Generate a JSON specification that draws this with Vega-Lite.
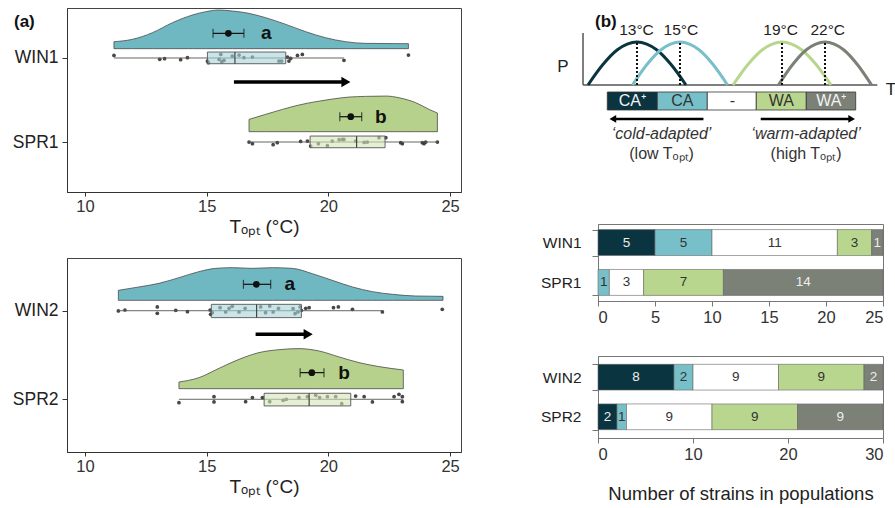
{
  "$schema": "https://vega.github.io/schema/vega-lite/v6.json",
  "background": "white",
  "padding": {"left": 11, "top": 7, "right": 0, "bottom": 0},
  "config": {"font": "Liberation Sans", "view": {"stroke": "#444"}, "text": {"font": "Liberation Sans"}},
  "datasets": {
    "viol": [
      {"g":"WIN1","T":11.19,"y":2.194},{"g":"WIN1","T":11.95,"y":2.222},{"g":"WIN1","T":12.77,"y":2.301},{"g":"WIN1","T":13.59,"y":2.420},{"g":"WIN1","T":14.41,"y":2.511},{"g":"WIN1","T":14.96,"y":2.551},{"g":"WIN1","T":15.51,"y":2.571},{"g":"WIN1","T":16.05,"y":2.559},{"g":"WIN1","T":16.60,"y":2.539},{"g":"WIN1","T":17.42,"y":2.480},{"g":"WIN1","T":18.25,"y":2.400},{"g":"WIN1","T":19.07,"y":2.313},{"g":"WIN1","T":19.89,"y":2.241},{"g":"WIN1","T":20.71,"y":2.194},{"g":"WIN1","T":21.53,"y":2.174},{"g":"WIN1","T":23.29,"y":2.170},
      {"g":"SPR1","T":16.74,"y":1.269},{"g":"SPR1","T":17.42,"y":1.329},{"g":"SPR1","T":18.11,"y":1.388},{"g":"SPR1","T":18.79,"y":1.440},{"g":"SPR1","T":19.48,"y":1.480},{"g":"SPR1","T":20.16,"y":1.511},{"g":"SPR1","T":20.85,"y":1.535},{"g":"SPR1","T":21.53,"y":1.543},{"g":"SPR1","T":22.36,"y":1.547},{"g":"SPR1","T":22.90,"y":1.527},{"g":"SPR1","T":23.59,"y":1.468},{"g":"SPR1","T":24.14,"y":1.388},{"g":"SPR1","T":24.48,"y":1.345},
      {"g":"WIN2","T":11.37,"y":2.230},{"g":"WIN2","T":12.22,"y":2.268},{"g":"WIN2","T":13.04,"y":2.309},{"g":"WIN2","T":13.86,"y":2.373},{"g":"WIN2","T":14.68,"y":2.441},{"g":"WIN2","T":15.37,"y":2.478},{"g":"WIN2","T":16.05,"y":2.486},{"g":"WIN2","T":16.88,"y":2.478},{"g":"WIN2","T":17.70,"y":2.486},{"g":"WIN2","T":18.52,"y":2.478},{"g":"WIN2","T":19.34,"y":2.418},{"g":"WIN2","T":20.16,"y":2.343},{"g":"WIN2","T":20.99,"y":2.268},{"g":"WIN2","T":21.81,"y":2.215},{"g":"WIN2","T":22.63,"y":2.185},{"g":"WIN2","T":23.59,"y":2.166},{"g":"WIN2","T":24.71,"y":2.162},
      {"g":"SPR2","T":13.86,"y":1.195},{"g":"SPR2","T":14.68,"y":1.244},{"g":"SPR2","T":15.51,"y":1.350},{"g":"SPR2","T":16.33,"y":1.451},{"g":"SPR2","T":17.15,"y":1.527},{"g":"SPR2","T":17.97,"y":1.560},{"g":"SPR2","T":18.79,"y":1.572},{"g":"SPR2","T":19.62,"y":1.545},{"g":"SPR2","T":20.44,"y":1.478},{"g":"SPR2","T":21.26,"y":1.414},{"g":"SPR2","T":22.08,"y":1.369},{"g":"SPR2","T":23.08,"y":1.331}
    ],
    "pts": [
      {"g":"WIN1","T":11.19,"y":2.031},{"g":"WIN1","T":13.07,"y":1.984},{"g":"WIN1","T":13.27,"y":1.992},{"g":"WIN1","T":13.93,"y":1.980},{"g":"WIN1","T":14.21,"y":2.003},{"g":"WIN1","T":15.03,"y":1.964},{"g":"WIN1","T":15.07,"y":1.944},{"g":"WIN1","T":15.51,"y":1.984},{"g":"WIN1","T":15.58,"y":2.043},{"g":"WIN1","T":15.62,"y":1.956},{"g":"WIN1","T":15.71,"y":1.972},{"g":"WIN1","T":16.05,"y":2.023},{"g":"WIN1","T":16.33,"y":2.035},{"g":"WIN1","T":16.53,"y":2.003},{"g":"WIN1","T":16.88,"y":2.011},{"g":"WIN1","T":17.97,"y":1.964},{"g":"WIN1","T":18.08,"y":1.964},{"g":"WIN1","T":18.32,"y":2.011},{"g":"WIN1","T":18.38,"y":1.964},{"g":"WIN1","T":18.45,"y":1.995},{"g":"WIN1","T":18.73,"y":2.031},{"g":"WIN1","T":18.93,"y":2.043},{"g":"WIN1","T":20.64,"y":1.972},{"g":"WIN1","T":23.29,"y":2.035},
      {"g":"SPR1","T":16.74,"y":0.999},{"g":"SPR1","T":16.88,"y":0.980},{"g":"SPR1","T":17.73,"y":0.968},{"g":"SPR1","T":17.90,"y":0.992},{"g":"SPR1","T":18.86,"y":1.007},{"g":"SPR1","T":19.14,"y":1.011},{"g":"SPR1","T":19.27,"y":0.952},{"g":"SPR1","T":19.59,"y":0.980},{"g":"SPR1","T":19.96,"y":0.956},{"g":"SPR1","T":20.16,"y":1.011},{"g":"SPR1","T":20.44,"y":1.027},{"g":"SPR1","T":20.58,"y":1.031},{"g":"SPR1","T":20.64,"y":1.031},{"g":"SPR1","T":21.12,"y":1.011},{"g":"SPR1","T":21.47,"y":0.995},{"g":"SPR1","T":21.60,"y":0.999},{"g":"SPR1","T":22.08,"y":1.051},{"g":"SPR1","T":22.36,"y":1.051},{"g":"SPR1","T":22.97,"y":0.992},{"g":"SPR1","T":23.04,"y":0.980},{"g":"SPR1","T":23.86,"y":0.992},{"g":"SPR1","T":23.93,"y":0.980},{"g":"SPR1","T":24.00,"y":0.999},{"g":"SPR1","T":24.48,"y":0.999},
      {"g":"WIN2","T":11.37,"y":1.997},{"g":"WIN2","T":11.64,"y":2.008},{"g":"WIN2","T":12.97,"y":2.042},{"g":"WIN2","T":12.97,"y":1.970},{"g":"WIN2","T":13.73,"y":2.004},{"g":"WIN2","T":14.21,"y":1.989},{"g":"WIN2","T":15.14,"y":2.008},{"g":"WIN2","T":15.16,"y":1.959},{"g":"WIN2","T":15.23,"y":1.978},{"g":"WIN2","T":15.55,"y":2.034},{"g":"WIN2","T":15.78,"y":1.986},{"g":"WIN2","T":15.92,"y":2.027},{"g":"WIN2","T":16.05,"y":2.049},{"g":"WIN2","T":16.33,"y":1.986},{"g":"WIN2","T":16.58,"y":2.027},{"g":"WIN2","T":17.22,"y":2.042},{"g":"WIN2","T":17.42,"y":1.978},{"g":"WIN2","T":17.59,"y":2.053},{"g":"WIN2","T":17.73,"y":1.986},{"g":"WIN2","T":17.95,"y":2.027},{"g":"WIN2","T":18.55,"y":2.023},{"g":"WIN2","T":18.63,"y":1.967},{"g":"WIN2","T":18.75,"y":1.986},{"g":"WIN2","T":18.84,"y":2.042},{"g":"WIN2","T":18.89,"y":2.004},{"g":"WIN2","T":19.07,"y":2.027},{"g":"WIN2","T":19.21,"y":2.034},{"g":"WIN2","T":20.21,"y":2.034},{"g":"WIN2","T":20.41,"y":2.042},{"g":"WIN2","T":20.99,"y":2.016},{"g":"WIN2","T":22.22,"y":1.986},{"g":"WIN2","T":24.68,"y":2.016},
      {"g":"SPR2","T":13.86,"y":0.962},{"g":"SPR2","T":15.30,"y":1.030},{"g":"SPR2","T":15.30,"y":0.970},{"g":"SPR2","T":16.60,"y":0.973},{"g":"SPR2","T":16.88,"y":1.019},{"g":"SPR2","T":17.29,"y":1.019},{"g":"SPR2","T":17.59,"y":0.973},{"g":"SPR2","T":18.14,"y":0.989},{"g":"SPR2","T":18.27,"y":1.000},{"g":"SPR2","T":18.79,"y":1.019},{"g":"SPR2","T":19.14,"y":1.030},{"g":"SPR2","T":19.48,"y":1.045},{"g":"SPR2","T":19.64,"y":1.019},{"g":"SPR2","T":19.96,"y":1.030},{"g":"SPR2","T":20.30,"y":1.030},{"g":"SPR2","T":20.55,"y":0.951},{"g":"SPR2","T":21.12,"y":1.037},{"g":"SPR2","T":21.47,"y":1.030},{"g":"SPR2","T":21.81,"y":0.970},{"g":"SPR2","T":22.70,"y":1.030},{"g":"SPR2","T":22.90,"y":1.056},{"g":"SPR2","T":23.04,"y":1.030},{"g":"SPR2","T":23.04,"y":0.973}
    ],
    "box": [
      {"g":"WIN1","lo":11.19,"q1":15.03,"med":16.16,"q3":18.25,"hi":20.64,"yb":1.932,"yt":2.071,"yc":2.0},
      {"g":"SPR1","lo":16.74,"q1":19.25,"med":21.16,"q3":22.33,"hi":24.48,"yb":0.932,"yt":1.071,"yc":1.0},
      {"g":"WIN2","lo":11.37,"q1":15.19,"med":17.05,"q3":18.89,"hi":22.22,"yb":1.922,"yt":2.072,"yc":2.0},
      {"g":"SPR2","lo":13.86,"q1":17.36,"med":19.21,"q3":20.92,"hi":23.08,"yb":0.925,"yt":1.068,"yc":1.0}
    ],
    "mean": [
      {"g":"WIN1","m":15.89,"elo":15.26,"ehi":16.53,"ym":2.293,"lab":"a","lx":17.45},
      {"g":"SPR1","m":20.92,"elo":20.47,"ehi":21.37,"ym":1.301,"lab":"b","lx":22.15},
      {"g":"WIN2","m":17.04,"elo":16.51,"ehi":17.63,"ym":2.298,"lab":"a","lx":18.41},
      {"g":"SPR2","m":19.32,"elo":18.84,"ehi":19.82,"ym":1.301,"lab":"b","lx":20.64}
    ],
    "arr": [
      {"p":1,"x1":16.12,"x2":20.72,"hx":20.72,"y":1.714},
      {"p":2,"x1":17.01,"x2":19.17,"hx":19.17,"y":1.733}
    ],
    "bars": [
      {"p":1,"g":"WIN1","k":"CA+","n":5,"o":1},{"p":1,"g":"WIN1","k":"CA","n":5,"o":2},{"p":1,"g":"WIN1","k":"-","n":11,"o":3},{"p":1,"g":"WIN1","k":"WA","n":3,"o":4},{"p":1,"g":"WIN1","k":"WA+","n":1,"o":5},
      {"p":1,"g":"SPR1","k":"CA","n":1,"o":2},{"p":1,"g":"SPR1","k":"-","n":3,"o":3},{"p":1,"g":"SPR1","k":"WA","n":7,"o":4},{"p":1,"g":"SPR1","k":"WA+","n":14,"o":5},
      {"p":2,"g":"WIN2","k":"CA+","n":8,"o":1},{"p":2,"g":"WIN2","k":"CA","n":2,"o":2},{"p":2,"g":"WIN2","k":"-","n":9,"o":3},{"p":2,"g":"WIN2","k":"WA","n":9,"o":4},{"p":2,"g":"WIN2","k":"WA+","n":2,"o":5},
      {"p":2,"g":"SPR2","k":"CA+","n":2,"o":1},{"p":2,"g":"SPR2","k":"CA","n":1,"o":2},{"p":2,"g":"SPR2","k":"-","n":9,"o":3},{"p":2,"g":"SPR2","k":"WA","n":9,"o":4},{"p":2,"g":"SPR2","k":"WA+","n":9,"o":5}
    ],
    "curves": [
      {"k":"CA+","x":-3.51,"y":52.17},{"k":"CA+","x":1.65,"y":64.72},{"k":"CA+","x":6.81,"y":74.06},{"k":"CA+","x":10.24,"y":77.54},{"k":"CA+","x":13.68,"y":78.87},{"k":"CA+","x":17.12,"y":77.54},{"k":"CA+","x":20.56,"y":74.06},{"k":"CA+","x":25.71,"y":64.72},{"k":"CA+","x":30.87,"y":52.17},
      {"k":"CA","x":12.10,"y":52.17},{"k":"CA","x":17.10,"y":64.72},{"k":"CA","x":22.10,"y":74.06},{"k":"CA","x":25.44,"y":77.54},{"k":"CA","x":28.77,"y":78.87},{"k":"CA","x":32.10,"y":77.54},{"k":"CA","x":35.44,"y":74.06},{"k":"CA","x":40.44,"y":64.72},{"k":"CA","x":45.44,"y":52.17},
      {"k":"WA","x":47.37,"y":52.17},{"k":"WA","x":52.53,"y":64.72},{"k":"WA","x":57.68,"y":74.06},{"k":"WA","x":61.12,"y":77.54},{"k":"WA","x":64.56,"y":78.87},{"k":"WA","x":68.00,"y":77.54},{"k":"WA","x":71.44,"y":74.06},{"k":"WA","x":76.59,"y":64.72},{"k":"WA","x":81.75,"y":52.17},
      {"k":"WA+","x":63.33,"y":52.17},{"k":"WA+","x":68.23,"y":64.72},{"k":"WA+","x":73.12,"y":74.06},{"k":"WA+","x":76.39,"y":77.54},{"k":"WA+","x":79.65,"y":78.87},{"k":"WA+","x":82.91,"y":77.54},{"k":"WA+","x":86.18,"y":74.06},{"k":"WA+","x":91.07,"y":64.72},{"k":"WA+","x":95.97,"y":52.17}
    ],
    "peaks": [
      {"x":13.68,"lx":13.5,"lab":"13°C"},{"x":28.77,"lx":29.1,"lab":"15°C"},{"x":64.56,"lx":64.1,"lab":"19°C"},{"x":79.65,"lx":80.6,"lab":"22°C"}
    ],
    "cats": [
      {"k":"CA+","lab":"CA⁺","lo":3.26,"hi":20.81},{"k":"CA","lab":"CA","lo":20.81,"hi":38.35},{"k":"-","lab":"-","lo":38.35,"hi":55.54},{"k":"WA","lab":"WA","lo":55.54,"hi":73.09},{"k":"WA+","lab":"WA⁺","lo":73.09,"hi":90.42}
    ],
    "sarr": [
      {"x1":37.0,"x2":5.2,"hx":5.2,"shape":"triangle-left"},
      {"x1":57.1,"x2":89.0,"hx":89.0,"shape":"triangle-right"}
    ],
    "stext": [
      {"x":22.3,"y":21.74,"t":"‘cold-adapted’","it":1},{"x":22.3,"y":9.32,"t":"(low Tₒₚₜ)","it":0},
      {"x":73.0,"y":21.74,"t":"‘warm-adapted’","it":1},{"x":73.0,"y":9.32,"t":"(high Tₒₚₜ)","it":0}
    ],
    "saxes": [
      {"x":-5.26,"x2":98.0,"y":52.17,"y2":52.17},{"x":-5.26,"x2":-5.26,"y":52.17,"y2":84.47}
    ],
    "slab": [
      {"x":-12.3,"y":63.4,"t":"P"},{"x":102.8,"y":49.1,"t":"T"}
    ]
  },
  "bounds": "flush",
  "spacing": 531,
  "hconcat": [
    {
      "bounds": "flush",
      "spacing": 66,
      "vconcat": [
        {
          "width": 394, "height": 184,
          "title": {"text": "(a)", "anchor": "start", "frame": "group", "dx": -53, "dy": 27, "fontSize": 17, "fontWeight": "bold", "color": "#111"},
          "layer": [
            {"data": {"name": "viol"}, "transform": [{"filter": "datum.g=='WIN1'"}],
             "mark": {"type": "area", "fill": "#6fb8c2", "stroke": "#4a4a4a", "strokeWidth": 0.8, "interpolate": "monotone"},
             "encoding": {
               "x": {"field": "T", "type": "quantitative", "scale": {"domain": [9.26, 25.45], "nice": false, "zero": false}, "axis": {"title": "Tₒₚₜ (°C)", "values": [10, 15, 20, 25], "grid": false, "tickSize": 4, "labelPadding": 2, "labelFontSize": 16.5, "labelColor": "#333", "titleFontSize": 19, "titleFontWeight": "normal", "titleColor": "#222", "titlePadding": 3, "domainColor": "#333", "tickColor": "#333"}},
               "y": {"field": "y", "type": "quantitative", "scale": {"domain": [0.405, 2.595], "nice": false, "zero": false}, "axis": {"title": null, "values": [1, 2], "labelExpr": "datum.value==2?'WIN1':'SPR1'", "grid": false, "tickSize": 5, "labelPadding": 4, "labelFontSize": 17.5, "labelColor": "#222", "domainColor": "#333", "tickColor": "#333"}},
               "y2": {"datum": 2.111}
             }},
            {"data": {"name": "viol"}, "transform": [{"filter": "datum.g=='SPR1'"}],
             "mark": {"type": "area", "fill": "#b5d18c", "stroke": "#4a4a4a", "strokeWidth": 0.8, "interpolate": "monotone"},
             "encoding": {"x": {"field": "T", "type": "quantitative"}, "y": {"field": "y", "type": "quantitative"}, "y2": {"datum": 1.123}}},
            {"data": {"name": "pts"}, "transform": [{"filter": "datum.g=='WIN1'||datum.g=='SPR1'"}],
             "mark": {"type": "circle", "size": 14, "color": "#333", "opacity": 0.9},
             "encoding": {"x": {"field": "T", "type": "quantitative"}, "y": {"field": "y", "type": "quantitative"}}},
            {"data": {"name": "box"}, "transform": [{"filter": "datum.g=='WIN1'||datum.g=='SPR1'"}],
             "mark": {"type": "rule", "color": "#555", "strokeWidth": 0.9},
             "encoding": {"x": {"field": "lo", "type": "quantitative"}, "x2": {"field": "hi"}, "y": {"field": "yc", "type": "quantitative"}}},
            {"data": {"name": "box"}, "transform": [{"filter": "datum.g=='WIN1'||datum.g=='SPR1'"}],
             "mark": {"type": "rect", "stroke": "#555", "strokeWidth": 0.9, "fillOpacity": 0.6},
             "encoding": {"x": {"field": "q1", "type": "quantitative"}, "x2": {"field": "q3"}, "y": {"field": "yb", "type": "quantitative"}, "y2": {"field": "yt"},
               "fill": {"condition": {"test": "datum.g=='WIN1'", "value": "#a6d3d9"}, "value": "#d2e4b8"}}},
            {"data": {"name": "box"}, "transform": [{"filter": "datum.g=='WIN1'||datum.g=='SPR1'"}],
             "mark": {"type": "rule", "color": "#444", "strokeWidth": 1.2},
             "encoding": {"x": {"field": "med", "type": "quantitative"}, "y": {"field": "yb", "type": "quantitative"}, "y2": {"field": "yt"}}},
            {"data": {"name": "mean"}, "transform": [{"filter": "datum.g=='WIN1'||datum.g=='SPR1'"}],
             "mark": {"type": "rule", "color": "#111", "strokeWidth": 1.2},
             "encoding": {"x": {"field": "elo", "type": "quantitative"}, "x2": {"field": "ehi"}, "y": {"field": "ym", "type": "quantitative"}}},
            {"data": {"name": "mean"}, "transform": [{"filter": "datum.g=='WIN1'||datum.g=='SPR1'"}],
             "mark": {"type": "tick", "orient": "vertical", "size": 9, "thickness": 1.2, "color": "#111"},
             "encoding": {"x": {"field": "elo", "type": "quantitative"}, "y": {"field": "ym", "type": "quantitative"}}},
            {"data": {"name": "mean"}, "transform": [{"filter": "datum.g=='WIN1'||datum.g=='SPR1'"}],
             "mark": {"type": "tick", "orient": "vertical", "size": 9, "thickness": 1.2, "color": "#111"},
             "encoding": {"x": {"field": "ehi", "type": "quantitative"}, "y": {"field": "ym", "type": "quantitative"}}},
            {"data": {"name": "mean"}, "transform": [{"filter": "datum.g=='WIN1'||datum.g=='SPR1'"}],
             "mark": {"type": "circle", "size": 45, "color": "#111", "opacity": 1},
             "encoding": {"x": {"field": "m", "type": "quantitative"}, "y": {"field": "ym", "type": "quantitative"}}},
            {"data": {"name": "mean"}, "transform": [{"filter": "datum.g=='WIN1'||datum.g=='SPR1'"}],
             "mark": {"type": "text", "fontSize": 19, "fontWeight": "bold", "color": "#111", "align": "center", "baseline": "middle"},
             "encoding": {"x": {"field": "lx", "type": "quantitative"}, "y": {"field": "ym", "type": "quantitative"}, "text": {"field": "lab"}}},
            {"data": {"name": "arr"}, "transform": [{"filter": "datum.p==1"}],
             "mark": {"type": "rule", "color": "#000", "strokeWidth": 3.5},
             "encoding": {"x": {"field": "x1", "type": "quantitative"}, "x2": {"field": "x2"}, "y": {"field": "y", "type": "quantitative"}}},
            {"data": {"name": "arr"}, "transform": [{"filter": "datum.p==1"}],
             "mark": {"type": "point", "shape": "triangle-right", "filled": true, "size": 110, "color": "#000", "opacity": 1},
             "encoding": {"x": {"field": "hx", "type": "quantitative"}, "y": {"field": "y", "type": "quantitative"}}}
          ]
        },
        {
          "width": 394, "height": 194,
          "layer": [
            {"data": {"name": "viol"}, "transform": [{"filter": "datum.g=='WIN2'"}],
             "mark": {"type": "area", "fill": "#6fb8c2", "stroke": "#4a4a4a", "strokeWidth": 0.8, "interpolate": "monotone"},
             "encoding": {
               "x": {"field": "T", "type": "quantitative", "scale": {"domain": [9.26, 25.45], "nice": false, "zero": false}, "axis": {"title": "Tₒₚₜ (°C)", "values": [10, 15, 20, 25], "grid": false, "tickSize": 4, "labelPadding": 2, "labelFontSize": 16.5, "labelColor": "#333", "titleFontSize": 19, "titleFontWeight": "normal", "titleColor": "#222", "titlePadding": 3, "domainColor": "#333", "tickColor": "#333"}},
               "y": {"field": "y", "type": "quantitative", "scale": {"domain": [0.405, 2.595], "nice": false, "zero": false}, "axis": {"title": null, "values": [1, 2], "labelExpr": "datum.value==2?'WIN2':'SPR2'", "grid": false, "tickSize": 5, "labelPadding": 4, "labelFontSize": 17.5, "labelColor": "#222", "domainColor": "#333", "tickColor": "#333"}},
               "y2": {"datum": 2.117}
             }},
            {"data": {"name": "viol"}, "transform": [{"filter": "datum.g=='SPR2'"}],
             "mark": {"type": "area", "fill": "#b5d18c", "stroke": "#4a4a4a", "strokeWidth": 0.8, "interpolate": "monotone"},
             "encoding": {"x": {"field": "T", "type": "quantitative"}, "y": {"field": "y", "type": "quantitative"}, "y2": {"datum": 1.120}}},
            {"data": {"name": "pts"}, "transform": [{"filter": "datum.g=='WIN2'||datum.g=='SPR2'"}],
             "mark": {"type": "circle", "size": 14, "color": "#333", "opacity": 0.9},
             "encoding": {"x": {"field": "T", "type": "quantitative"}, "y": {"field": "y", "type": "quantitative"}}},
            {"data": {"name": "box"}, "transform": [{"filter": "datum.g=='WIN2'||datum.g=='SPR2'"}],
             "mark": {"type": "rule", "color": "#555", "strokeWidth": 0.9},
             "encoding": {"x": {"field": "lo", "type": "quantitative"}, "x2": {"field": "hi"}, "y": {"field": "yc", "type": "quantitative"}}},
            {"data": {"name": "box"}, "transform": [{"filter": "datum.g=='WIN2'||datum.g=='SPR2'"}],
             "mark": {"type": "rect", "stroke": "#555", "strokeWidth": 0.9, "fillOpacity": 0.6},
             "encoding": {"x": {"field": "q1", "type": "quantitative"}, "x2": {"field": "q3"}, "y": {"field": "yb", "type": "quantitative"}, "y2": {"field": "yt"},
               "fill": {"condition": {"test": "datum.g=='WIN2'", "value": "#a6d3d9"}, "value": "#d2e4b8"}}},
            {"data": {"name": "box"}, "transform": [{"filter": "datum.g=='WIN2'||datum.g=='SPR2'"}],
             "mark": {"type": "rule", "color": "#444", "strokeWidth": 1.2},
             "encoding": {"x": {"field": "med", "type": "quantitative"}, "y": {"field": "yb", "type": "quantitative"}, "y2": {"field": "yt"}}},
            {"data": {"name": "mean"}, "transform": [{"filter": "datum.g=='WIN2'||datum.g=='SPR2'"}],
             "mark": {"type": "rule", "color": "#111", "strokeWidth": 1.2},
             "encoding": {"x": {"field": "elo", "type": "quantitative"}, "x2": {"field": "ehi"}, "y": {"field": "ym", "type": "quantitative"}}},
            {"data": {"name": "mean"}, "transform": [{"filter": "datum.g=='WIN2'||datum.g=='SPR2'"}],
             "mark": {"type": "tick", "orient": "vertical", "size": 9, "thickness": 1.2, "color": "#111"},
             "encoding": {"x": {"field": "elo", "type": "quantitative"}, "y": {"field": "ym", "type": "quantitative"}}},
            {"data": {"name": "mean"}, "transform": [{"filter": "datum.g=='WIN2'||datum.g=='SPR2'"}],
             "mark": {"type": "tick", "orient": "vertical", "size": 9, "thickness": 1.2, "color": "#111"},
             "encoding": {"x": {"field": "ehi", "type": "quantitative"}, "y": {"field": "ym", "type": "quantitative"}}},
            {"data": {"name": "mean"}, "transform": [{"filter": "datum.g=='WIN2'||datum.g=='SPR2'"}],
             "mark": {"type": "circle", "size": 45, "color": "#111", "opacity": 1},
             "encoding": {"x": {"field": "m", "type": "quantitative"}, "y": {"field": "ym", "type": "quantitative"}}},
            {"data": {"name": "mean"}, "transform": [{"filter": "datum.g=='WIN2'||datum.g=='SPR2'"}],
             "mark": {"type": "text", "fontSize": 19, "fontWeight": "bold", "color": "#111", "align": "center", "baseline": "middle"},
             "encoding": {"x": {"field": "lx", "type": "quantitative"}, "y": {"field": "ym", "type": "quantitative"}, "text": {"field": "lab"}}},
            {"data": {"name": "arr"}, "transform": [{"filter": "datum.p==2"}],
             "mark": {"type": "rule", "color": "#000", "strokeWidth": 3.5},
             "encoding": {"x": {"field": "x1", "type": "quantitative"}, "x2": {"field": "x2"}, "y": {"field": "y", "type": "quantitative"}}},
            {"data": {"name": "arr"}, "transform": [{"filter": "datum.p==2"}],
             "mark": {"type": "point", "shape": "triangle-right", "filled": true, "size": 110, "color": "#000", "opacity": 1},
             "encoding": {"x": {"field": "hx", "type": "quantitative"}, "y": {"field": "y", "type": "quantitative"}}}
          ]
        }
      ]
    },
    {
      "bounds": "flush",
      "spacing": 55,
      "vconcat": [
        {
          "width": 285, "height": 161,
          "view": {"stroke": null},
          "title": {"text": "(b)", "anchor": "start", "frame": "group", "dx": -3, "dy": 27, "fontSize": 17, "fontWeight": "bold", "color": "#111"},
          "layer": [
            {"data": {"name": "saxes"},
             "mark": {"type": "rule", "color": "#555", "strokeWidth": 1.5},
             "encoding": {
               "x": {"field": "x", "type": "quantitative", "scale": {"domain": [0, 100], "nice": false, "zero": false}, "axis": null},
               "x2": {"field": "x2"},
               "y": {"field": "y", "type": "quantitative", "scale": {"domain": [0, 100], "nice": false, "zero": false}, "axis": null},
               "y2": {"field": "y2"}}},
            {"data": {"name": "curves"},
             "mark": {"type": "line", "strokeWidth": 3, "interpolate": "monotone"},
             "encoding": {"x": {"field": "x", "type": "quantitative"}, "y": {"field": "y", "type": "quantitative"},
               "color": {"field": "k", "type": "nominal", "scale": {"domain": ["CA+", "CA", "-", "WA", "WA+"], "range": ["#0b3441", "#78c0c9", "#ffffff", "#b9d68f", "#7b8176"]}, "legend": null}}},
            {"data": {"name": "peaks"},
             "mark": {"type": "rule", "color": "#111", "strokeWidth": 2, "strokeDash": [2, 2]},
             "encoding": {"x": {"field": "x", "type": "quantitative"}, "y": {"datum": 52.17}, "y2": {"datum": 78.87}}},
            {"data": {"name": "peaks"},
             "mark": {"type": "text", "fontSize": 15.5, "color": "#222", "align": "center", "baseline": "middle"},
             "encoding": {"x": {"field": "lx", "type": "quantitative"}, "y": {"datum": 86.34}, "text": {"field": "lab"}}},
            {"data": {"name": "cats"},
             "mark": {"type": "rect", "stroke": "#333", "strokeWidth": 0.8},
             "encoding": {"x": {"field": "lo", "type": "quantitative"}, "x2": {"field": "hi"}, "y": {"datum": 36.65}, "y2": {"datum": 47.83},
               "color": {"field": "k", "type": "nominal", "scale": {"domain": ["CA+", "CA", "-", "WA", "WA+"], "range": ["#0b3441", "#78c0c9", "#ffffff", "#b9d68f", "#7b8176"]}, "legend": null}}},
            {"data": {"name": "cats"},
             "mark": {"type": "text", "fontSize": 16, "align": "center", "baseline": "middle", "dx": 25},
             "encoding": {"x": {"field": "lo", "type": "quantitative"}, "y": {"datum": 42.24}, "text": {"field": "lab"},
               "color": {"condition": {"test": "datum.k=='CA+'||datum.k=='WA+'", "value": "#f2f2f2"}, "value": "#333"}}},
            {"data": {"name": "sarr"},
             "mark": {"type": "rule", "color": "#000", "strokeWidth": 2.5},
             "encoding": {"x": {"field": "x1", "type": "quantitative"}, "x2": {"field": "x2"}, "y": {"datum": 31.06}}},
            {"data": {"name": "sarr"},
             "mark": {"type": "point", "filled": true, "size": 60, "color": "#000", "opacity": 1},
             "encoding": {"x": {"field": "hx", "type": "quantitative"}, "y": {"datum": 31.06}, "shape": {"field": "shape", "type": "nominal", "scale": null}}},
            {"data": {"name": "stext"}, "transform": [{"filter": "datum.it==1"}],
             "mark": {"type": "text", "fontSize": 16, "fontStyle": "italic", "color": "#333", "align": "center", "baseline": "middle"},
             "encoding": {"x": {"field": "x", "type": "quantitative"}, "y": {"field": "y", "type": "quantitative"}, "text": {"field": "t"}}},
            {"data": {"name": "stext"}, "transform": [{"filter": "datum.it==0"}],
             "mark": {"type": "text", "fontSize": 16, "color": "#333", "align": "center", "baseline": "middle"},
             "encoding": {"x": {"field": "x", "type": "quantitative"}, "y": {"field": "y", "type": "quantitative"}, "text": {"field": "t"}}},
            {"data": {"name": "slab"},
             "mark": {"type": "text", "fontSize": 17, "color": "#222", "align": "center", "baseline": "middle"},
             "encoding": {"x": {"field": "x", "type": "quantitative"}, "y": {"field": "y", "type": "quantitative"}, "text": {"field": "t"}}}
          ]
        },
        {
          "width": 285, "height": 77,
          "data": {"name": "bars"},
          "transform": [{"filter": "datum.p==1"}],
          "view": {"stroke": "#777"},
          "encoding": {"y": {"field": "g", "type": "nominal", "sort": ["WIN1", "SPR1"], "scale": {"paddingInner": 0.35, "paddingOuter": 0.14},
            "axis": {"title": null, "tickBand": "extent", "tickSize": 6, "labelFontSize": 15.5, "labelColor": "#222", "labelPadding": 11, "domainColor": "#777", "tickColor": "#777"}}},
          "layer": [
            {"mark": {"type": "bar", "stroke": "#666", "strokeWidth": 0.6},
             "encoding": {
               "x": {"field": "n", "type": "quantitative", "stack": "zero", "scale": {"domain": [0, 25], "nice": false},
                 "axis": {"title": null, "values": [0, 5, 10, 15, 20, 25], "grid": false, "tickSize": 5, "labelFontSize": 16.5, "labelColor": "#333", "labelPadding": 3, "domainColor": "#777", "tickColor": "#777"}},
               "color": {"field": "k", "type": "nominal", "scale": {"domain": ["CA+", "CA", "-", "WA", "WA+"], "range": ["#0b3441", "#78c0c9", "#ffffff", "#b9d68f", "#7b8176"]}, "legend": null},
               "order": {"field": "o"}}},
            {"mark": {"type": "text", "fontSize": 13.5, "baseline": "middle", "align": "center"},
             "encoding": {
               "x": {"field": "n", "type": "quantitative", "stack": "zero", "bandPosition": 0.5},
               "detail": {"field": "k"},
               "order": {"field": "o"},
               "text": {"field": "n"},
               "color": {"condition": {"test": "datum.k=='CA+'||datum.k=='WA+'", "value": "#eeeeee"}, "value": "#333"}}}
          ]
        },
        {
          "width": 285, "height": 82,
          "data": {"name": "bars"},
          "transform": [{"filter": "datum.p==2"}],
          "view": {"stroke": "#777"},
          "encoding": {"y": {"field": "g", "type": "nominal", "sort": ["WIN2", "SPR2"], "scale": {"paddingInner": 0.35, "paddingOuter": 0.21},
            "axis": {"title": null, "tickBand": "extent", "tickSize": 6, "labelFontSize": 15.5, "labelColor": "#222", "labelPadding": 11, "domainColor": "#777", "tickColor": "#777"}}},
          "layer": [
            {"mark": {"type": "bar", "stroke": "#666", "strokeWidth": 0.6},
             "encoding": {
               "x": {"field": "n", "type": "quantitative", "stack": "zero", "scale": {"domain": [0, 30], "nice": false},
                 "axis": {"title": "Number of strains in populations", "values": [0, 10, 20, 30], "grid": false, "tickSize": 5, "labelFontSize": 16.5, "labelColor": "#333", "labelPadding": 3, "domainColor": "#777", "tickColor": "#777", "titleFontSize": 18.5, "titleFontWeight": "normal", "titleColor": "#222", "titlePadding": 22}},
               "color": {"field": "k", "type": "nominal", "scale": {"domain": ["CA+", "CA", "-", "WA", "WA+"], "range": ["#0b3441", "#78c0c9", "#ffffff", "#b9d68f", "#7b8176"]}, "legend": null},
               "order": {"field": "o"}}},
            {"mark": {"type": "text", "fontSize": 13.5, "baseline": "middle", "align": "center"},
             "encoding": {
               "x": {"field": "n", "type": "quantitative", "stack": "zero", "bandPosition": 0.5},
               "detail": {"field": "k"},
               "order": {"field": "o"},
               "text": {"field": "n"},
               "color": {"condition": {"test": "datum.k=='CA+'||datum.k=='WA+'", "value": "#eeeeee"}, "value": "#333"}}}
          ]
        }
      ]
    }
  ]
}
